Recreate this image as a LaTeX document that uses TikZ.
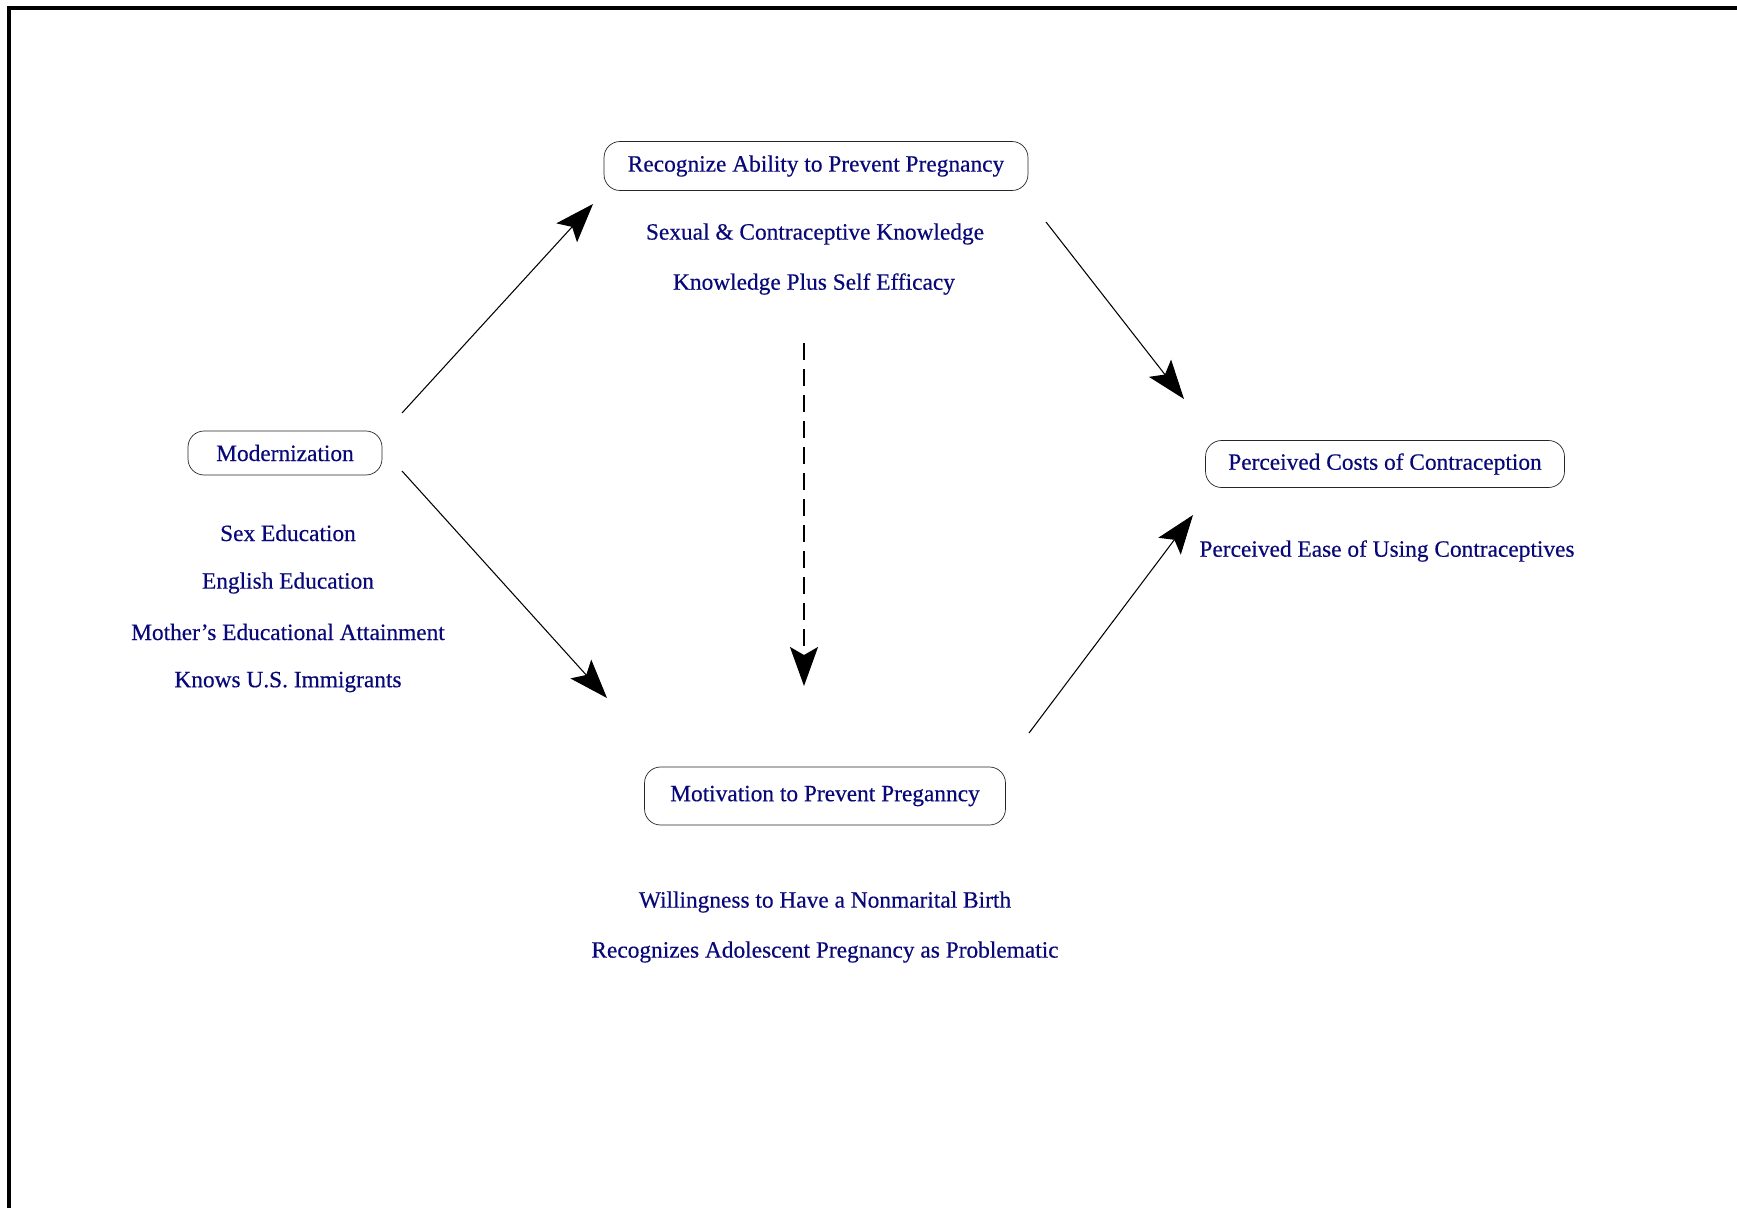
\documentclass[tikz,border=0pt]{standalone}
\usepackage{fontspec}
\setmainfont{Liberation Serif}
\newfontfamily\labelfont{Liberation Serif}[FakeBold=0.4]
\usetikzlibrary{arrows.meta}
\definecolor{navy}{rgb}{0.03,0.03,0.47}
\tikzset{
  factor/.style={draw=black!85, rounded corners=0.32cm, text=navy, inner sep=0pt,
    font=\labelfont\fontsize{13.3}{15}\selectfont},
  item/.style={text=navy, inner sep=0pt, font=\labelfont\fontsize{13.3}{15}\selectfont},
  arr/.style={-{Stealth[length=0.78cm,width=0.56cm,inset=0.16cm]}, line width=0.6pt},
}
\begin{document}
\begin{tikzpicture}[x=0.02cm,y=-0.02cm]
  \useasboundingbox (0,0) rectangle (1737,1207);
  % frame
  \draw[line width=0.08cm] (9,8) rectangle (1739,1215);
  % factor boxes
  \node[factor, minimum width=8.48cm, minimum height=0.98cm] (rec) at (816,166) {Recognize Ability to Prevent Pregnancy};
  \node[factor, minimum width=3.88cm, minimum height=0.88cm] (modern) at (285,453) {Modernization};
  \node[factor, minimum width=7.18cm, minimum height=0.94cm] (cost) at (1385,464) {Perceived Costs of Contraception};
  \node[factor, minimum width=7.22cm, minimum height=1.16cm] (motiv) at (825,796) {Motivation to Prevent Preganncy};
  % indicators
  \node[item] (rec1) at (815,234) {Sexual \& Contraceptive Knowledge};
  \node[item] (rec2) at (814,284) {Knowledge Plus Self Efficacy};
  \node[item] (mod1) at (288,533) {Sex Education};
  \node[item] (mod2) at (288,583) {English Education};
  \node[item] (mod3) at (288,632) {Mother’s Educational Attainment};
  \node[item] (mod4) at (288,682) {Knows U.S. Immigrants};
  \node[item] (cost1) at (1387,551) {Perceived Ease of Using Contraceptives};
  \node[item] (mot1) at (825,902) {Willingness to Have a Nonmarital Birth};
  \node[item] (mot2) at (825,952) {Recognizes Adolescent Pregnancy as Problematic};
  % arrow ends
  \coordinate (m-out1) at (402,413);
  \coordinate (m-out2) at (402,471);
  \coordinate (r-in) at (593,204);
  \coordinate (r-out) at (1046,222);
  \coordinate (r-down) at (804,343);
  \coordinate (v-in) at (607,698);
  \coordinate (v-top) at (804,686);
  \coordinate (v-out) at (1029,733);
  \coordinate (c-in1) at (1184,399);
  \coordinate (c-in2) at (1193,515);
  % paths
  \draw[arr] (m-out1) -- (r-in);
  \draw[arr] (m-out2) -- (v-in);
  \draw[arr] (r-out) -- (c-in1);
  \draw[arr] (v-out) -- (c-in2);
  \draw[arr, line width=0.04cm, dash pattern=on 0.34cm off 0.18cm] (r-down) -- (v-top);
\end{tikzpicture}
\end{document}
